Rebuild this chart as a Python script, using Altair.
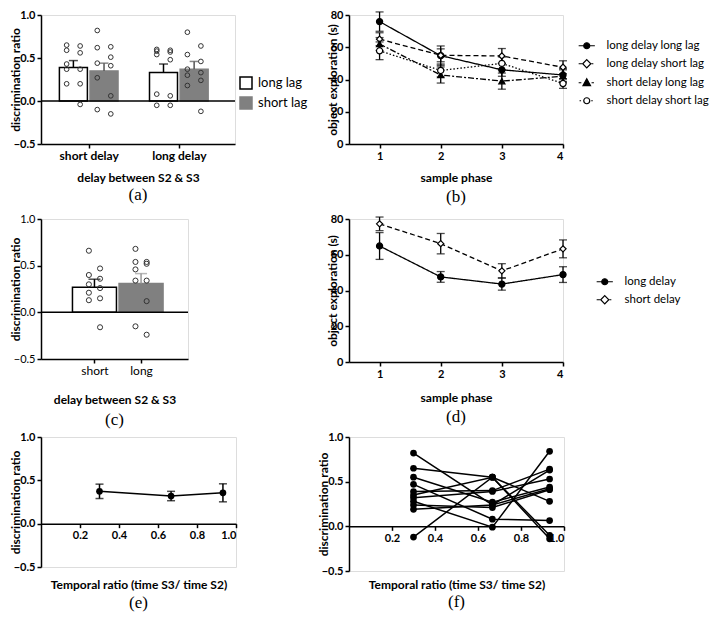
import json
import altair as alt
import pandas as pd

FONT = "Lato"
SERIF = "Liberation Serif"
BLACK = "#000000"
GREY = "#808080"

# ---------------- (a) ----------------
a_groups = ["short delay", "long delay"]
a_lags = ["long lag", "short lag"]
a_bar_delay = ["short delay", "short delay", "long delay", "long delay"]
a_bar_lag = ["long lag", "short lag", "long lag", "short lag"]
a_bar_mean = [0.39, 0.35, 0.33, 0.37]
a_bar_sem = [0.08, 0.09, 0.10, 0.09]
a_pts_sd_ll = [0.65, 0.64, 0.59, 0.56, 0.43, 0.37, 0.37, 0.20, 0.20, -0.04]
a_pts_sd_sl = [0.82, 0.63, 0.62, 0.51, 0.44, 0.41, 0.27, 0.06, -0.10, -0.15]
a_pts_ld_ll = [0.60, 0.59, 0.58, 0.57, 0.54, 0.48, 0.08, 0.06, -0.05, -0.05]
a_pts_ld_sl = [0.80, 0.64, 0.54, 0.46, 0.37, 0.33, 0.30, 0.24, 0.18, -0.12]
zero_line = [0.0]

# ---------------- (b) ----------------
b_phase = [1, 2, 3, 4]
b_series = ["long delay long lag", "long delay short lag",
            "short delay long lag", "short delay short lag"]
b_ll = [75.9, 54.8, 46.0, 42.8]
b_ll_err = [6.0, 6.0, 4.0, 4.0]
b_ls = [65.0, 55.0, 54.6, 47.6]
b_ls_err = [4.0, 4.0, 4.6, 4.0]
b_sl = [62.0, 42.8, 39.0, 42.0]
b_sl_err = [4.0, 5.0, 5.0, 4.0]
b_ss = [57.8, 45.6, 50.0, 37.5]
b_ss_err = [5.5, 4.0, 4.0, 3.0]

# ---------------- (c) ----------------
c_groups = ["short", "long"]
c_mean = [0.27, 0.31]
c_sem = [0.085, 0.105]
c_pts_short = [0.66, 0.47, 0.40, 0.36, 0.30, 0.26, 0.21, 0.15, 0.13, -0.16]
c_pts_long = [0.68, 0.54, 0.54, 0.52, 0.46, 0.34, 0.34, 0.12, -0.15, -0.24]

# ---------------- (d) ----------------
d_phase = [1, 2, 3, 4]
d_series = ["long delay", "short delay"]
d_long = [64.9, 47.6, 43.6, 48.9]
d_long_err = [7.5, 3.0, 3.4, 4.4]
d_short = [77.3, 66.2, 51.0, 63.3]
d_short_err = [3.8, 5.7, 4.0, 5.0]

# ---------------- (e) ----------------
e_ratio = [0.30, 0.667, 0.933]
e_mean = [0.373, 0.319, 0.356]
e_sem = [0.083, 0.054, 0.104]

# ---------------- (f) ----------------
f_ratio = [0.30, 0.667, 0.933]
f_at_030 = [0.82, 0.65, 0.55, 0.47, 0.39, 0.35, 0.32, 0.28, 0.24, 0.19, -0.12]
f_at_067 = [0.24, 0.55, 0.27, 0.08, 0.40, 0.55, 0.39, -0.01, 0.21, 0.24, 0.55]
f_at_093 = [0.42, 0.28, 0.44, 0.065, 0.64, -0.10, 0.53, 0.84, 0.41, 0.63, -0.14]

# legend symbols: line segments + marker (unit coords)
CIRC = "M1,0A1,1,0,1,1,-1,0A1,1,0,1,1,1,0Z"
P_SOLID_CIRCLE = "M-2.7,0L-1,0M1,0L2.7,0" + CIRC
P_DASH_DIAMOND = "M-2.7,0L-1.6,0M1.6,0L2.2,0M0,-1.35L1.35,0L0,1.35L-1.35,0Z"
P_DASHDOT_TRI = "M-2.7,0L-1.8,0M1.6,0L2.4,0M0,-1.3L1.25,0.95L-1.25,0.95Z"
P_DOT_CIRCLE = "M-2.4,0L-1.9,0M1.5,0L2.0,0" + CIRC


def ax(title, values=None, fmt=None, bold=True, lsize=11, tsize=12, **kw):
    d = dict(title=title, grid=False, domainColor=BLACK, domainWidth=1.5,
             tickColor=BLACK, tickWidth=1.5, tickSize=4,
             labelFont=FONT, labelFontSize=lsize,
             labelFontWeight="bold" if bold else "normal", labelColor=BLACK,
             titleFont=FONT, titleFontSize=tsize, titleFontWeight="bold",
             titleColor=BLACK, labelPadding=2, titlePadding=-9)
    if values is not None:
        d["values"] = values
    if fmt:
        d["format"] = fmt
    d.update(kw)
    return alt.Axis(**d)


def cap(t, off=2):
    return alt.TitleParams(t, orient="bottom", font=SERIF, fontSize=17,
                           fontWeight="normal", color=BLACK, frame="group",
                           anchor="middle", offset=off)


# ====================== panel (a) ======================
a_gi = {g: i for i, g in enumerate(a_groups)}
a_bar_df = pd.DataFrame({"delay": a_bar_delay, "lag": a_bar_lag,
                         "mean": a_bar_mean, "sem": a_bar_sem})
a_bar_df["gi"] = a_bar_df["delay"].map(a_gi)
a_pts_df = pd.concat([
    pd.DataFrame({"delay": "short delay", "lag": "long lag", "value": a_pts_sd_ll}),
    pd.DataFrame({"delay": "short delay", "lag": "short lag", "value": a_pts_sd_sl}),
    pd.DataFrame({"delay": "long delay", "lag": "long lag", "value": a_pts_ld_ll}),
    pd.DataFrame({"delay": "long delay", "lag": "short lag", "value": a_pts_ld_sl}),
], ignore_index=True)
a_pts_df["gi"] = a_pts_df["delay"].map(a_gi)

a_xexpr = "datum.gi + (datum.lag == 'long lag' ? -0.17 : 0.17)"
a_xaxis = ax("delay between S2 & S3", values=[0, 1], bold=True, lsize=12,
             labelExpr="%s[datum.value]" % json.dumps(a_groups), titlePadding=11)
a_X = alt.X("xp:Q", scale=alt.Scale(domain=[-0.474, 1.568], nice=False, zero=False), axis=a_xaxis)
a_ys = alt.Scale(domain=[-0.5, 1.0], nice=False, zero=False)
a_yax = ax("discrimination ratio", values=[-0.5, 0, 0.5, 1.0], fmt=".1f")

leg_a = alt.Legend(title=None, orient="none", legendX=198, legendY=61,
                   symbolType="square", symbolSize=144, symbolStrokeWidth=1.5,
                   symbolFillColor="white", labelFont=FONT, labelFontSize=13,
                   labelColor=BLACK, rowPadding=2, labelOffset=5)

a_bars = alt.Chart(a_bar_df).transform_calculate(xp=a_xexpr).mark_bar(width=28, strokeWidth=1.5).encode(
    x=a_X, y=alt.Y("mean:Q", scale=a_ys, axis=a_yax), y2=alt.datum(0),
    fill=alt.Fill("lag:N", scale=alt.Scale(domain=a_lags, range=["white", GREY]), legend=leg_a),
    stroke=alt.Stroke("lag:N", scale=alt.Scale(domain=a_lags, range=[BLACK, GREY]), legend=leg_a),
)
a_errbase = alt.Chart(a_bar_df).transform_calculate(xp=a_xexpr, hi="datum.mean + datum.sem")
a_ecol = alt.Color("lag:N", scale=alt.Scale(domain=a_lags, range=[BLACK, "#555555"]), legend=None)
a_err = a_errbase.mark_rule(strokeWidth=1.5).encode(
    x=a_X, y=alt.Y("mean:Q", scale=a_ys, axis=a_yax), y2="hi:Q", color=a_ecol)
a_cap = a_errbase.mark_tick(orient="horizontal", size=9, thickness=1.5).encode(
    x=a_X, y=alt.Y("hi:Q", scale=a_ys, axis=a_yax), color=a_ecol)
a_zero = alt.Chart(pd.DataFrame({"z": zero_line})).mark_rule(color=BLACK, strokeWidth=1.5).encode(
    y=alt.Y("z:Q", scale=a_ys, axis=a_yax))
a_pts = alt.Chart(a_pts_df).transform_window(
    rk="row_number()", groupby=["delay", "lag"],
    sort=[alt.SortField("value", order="descending")]
).transform_calculate(
    xp=a_xexpr + " + (datum.rk % 2 == 0 ? 0.075 : -0.075)"
).mark_point(shape="circle", size=22, strokeWidth=1, color="#333333", filled=False, opacity=1).encode(
    x=a_X, y=alt.Y("value:Q", scale=a_ys, axis=a_yax))

panel_a = alt.layer(a_bars, a_err, a_cap, a_zero, a_pts).properties(
    width=194, height=129, title=cap("(a)", 4))

# ====================== panel (c) ======================
c_gi = {g: i for i, g in enumerate(c_groups)}
c_bar_df = pd.DataFrame({"delay": c_groups, "mean": c_mean, "sem": c_sem})
c_bar_df["gi"] = c_bar_df["delay"].map(c_gi)
c_pts_df = pd.concat([
    pd.DataFrame({"delay": "short", "value": c_pts_short}),
    pd.DataFrame({"delay": "long", "value": c_pts_long}),
], ignore_index=True)
c_pts_df["gi"] = c_pts_df["delay"].map(c_gi)
c_xexpr = "datum.gi"
c_xaxis = ax("delay between S2 & S3", values=[0, 1], bold=False, lsize=12,
             labelExpr="%s[datum.value]" % json.dumps(c_groups), titlePadding=18)
c_X = alt.X("xp:Q", scale=alt.Scale(domain=[-1.04, 1.9], nice=False, zero=False), axis=c_xaxis)
c_ys = alt.Scale(domain=[-0.5, 1.0], nice=False, zero=False)
c_yax = ax("discrimination ratio", values=[-0.5, 0, 0.5, 1.0], fmt=".1f", bold=False, lsize=11, tsize=12)

c_bars = alt.Chart(c_bar_df).transform_calculate(xp=c_xexpr).mark_bar(width=44, strokeWidth=1.5).encode(
    x=c_X, y=alt.Y("mean:Q", scale=c_ys, axis=c_yax), y2=alt.datum(0),
    fill=alt.Fill("delay:N", scale=alt.Scale(domain=c_groups, range=["white", GREY]), legend=None),
    stroke=alt.Stroke("delay:N", scale=alt.Scale(domain=c_groups, range=[BLACK, GREY]), legend=None),
)
c_errbase = alt.Chart(c_bar_df).transform_calculate(xp=c_xexpr, hi="datum.mean + datum.sem")
c_ecol = alt.Color("delay:N", scale=alt.Scale(domain=c_groups, range=[BLACK, "#9a9a9a"]), legend=None)
c_err = c_errbase.mark_rule(strokeWidth=1.5).encode(
    x=c_X, y=alt.Y("mean:Q", scale=c_ys, axis=c_yax), y2="hi:Q", color=c_ecol)
c_cap = c_errbase.mark_tick(orient="horizontal", size=12, thickness=1.5).encode(
    x=c_X, y=alt.Y("hi:Q", scale=c_ys, axis=c_yax), color=c_ecol)
c_zero = alt.Chart(pd.DataFrame({"z": zero_line})).mark_rule(color=BLACK, strokeWidth=1.5).encode(
    y=alt.Y("z:Q", scale=c_ys, axis=c_yax))
c_pts = alt.Chart(c_pts_df).transform_window(
    rk="row_number()", groupby=["delay"],
    sort=[alt.SortField("value", order="descending")]
).transform_calculate(
    xp=c_xexpr + " + (datum.rk % 2 == 0 ? 0.12 : -0.12)"
).mark_point(shape="circle", size=26, strokeWidth=1, color="#333333", filled=False, opacity=1).encode(
    x=c_X, y=alt.Y("value:Q", scale=c_ys, axis=c_yax))

panel_c = alt.layer(c_bars, c_err, c_cap, c_zero, c_pts).properties(
    width=147, height=140, title=cap("(c)", 7))


# ====================== line panels (b), (d) ======================
def phase_panel(series, means, errs, dashes, shapes, fills, paths, leg_xy, w, h, tpad, caption, coff):
    df = pd.DataFrame({
        "phase": [p for _ in series for p in b_phase],
        "series": [s for s in series for _ in b_phase],
        "mean": [v for m in means for v in m],
        "err": [v for e in errs for v in e],
    })
    X = alt.X("phase:Q", scale=alt.Scale(domain=[0.5, 4], nice=False, zero=False),
              axis=ax("sample phase", values=[1, 2, 3, 4], fmt="d", titlePadding=tpad))
    ys = alt.Scale(domain=[0, 80], nice=False, zero=False)
    yax = ax("object exploration (s)", values=[0, 20, 40, 60, 80], fmt="d")
    base = alt.Chart(df).transform_calculate(lo="datum.mean - datum.err", hi="datum.mean + datum.err")
    rule = base.mark_rule(color=BLACK, strokeWidth=1.3).encode(
        x=X, y=alt.Y("lo:Q", scale=ys, axis=yax), y2="hi:Q")
    capl = base.mark_tick(orient="horizontal", size=8, thickness=1.3, color=BLACK).encode(
        x=X, y=alt.Y("lo:Q", scale=ys, axis=yax))
    caph = base.mark_tick(orient="horizontal", size=8, thickness=1.3, color=BLACK).encode(
        x=X, y=alt.Y("hi:Q", scale=ys, axis=yax))
    line = base.mark_line(color=BLACK, strokeWidth=1.3).encode(
        x=X, y=alt.Y("mean:Q", scale=ys, axis=yax),
        strokeDash=alt.StrokeDash("series:N", scale=alt.Scale(domain=series, range=dashes), legend=None))
    pts = base.mark_point(filled=True, stroke=BLACK, strokeWidth=1.2, size=38, opacity=1).encode(
        x=X, y=alt.Y("mean:Q", scale=ys, axis=yax),
        shape=alt.Shape("series:N", scale=alt.Scale(domain=series, range=shapes), legend=None),
        fill=alt.Fill("series:N", scale=alt.Scale(domain=series, range=fills), legend=None))
    leg = alt.Legend(title=None, orient="none", legendX=leg_xy[0], legendY=leg_xy[1],
                     symbolSize=36, symbolStrokeWidth=1.2, symbolStrokeColor=BLACK,
                     symbolFillColor="white", symbolOpacity=1, labelFont=FONT,
                     labelFontSize=11.5, labelColor=BLACK, labelOffset=14, rowPadding=5)
    legl = base.transform_filter("false").mark_point(filled=True, stroke=BLACK, strokeWidth=1.2).encode(
        shape=alt.Shape("series:N", scale=alt.Scale(domain=series, range=paths), legend=leg),
        fill=alt.Fill("series:N", scale=alt.Scale(domain=series, range=fills), legend=leg))
    return alt.layer(rule, capl, caph, line, pts, legl).resolve_scale(
        shape="independent", fill="independent").properties(width=w, height=h, title=cap(caption, coff))


panel_b = phase_panel(
    b_series, [b_ll, b_ls, b_sl, b_ss], [b_ll_err, b_ls_err, b_sl_err, b_ss_err],
    [[1, 0], [5, 3], [6, 2, 2, 2], [1.5, 2]],
    ["circle", "diamond", "triangle-up", "circle"],
    [BLACK, "white", BLACK, "white"],
    [P_SOLID_CIRCLE, P_DASH_DIAMOND, P_DASHDOT_TRI, P_DOT_CIRCLE],
    (232, 25), 214, 129, 11, "(b)", 6)

panel_d = phase_panel(
    d_series, [d_long, d_short], [d_long_err, d_short_err],
    [[1, 0], [5, 3]],
    ["circle", "diamond"],
    [BLACK, "white"],
    [P_SOLID_CIRCLE, P_DASH_DIAMOND],
    (250, 57), 214, 143, 13, "(d)", 6)

# ====================== panel (e) ======================
e_df = pd.DataFrame({"ratio": e_ratio, "mean": e_mean, "sem": e_sem})
e_H = 130
e_X = alt.X("ratio:Q", scale=alt.Scale(domain=[0, 1], nice=False, zero=False),
            axis=ax("Temporal ratio (time S3/ time S2)", values=[0.2, 0.4, 0.6, 0.8, 1.0], fmt=".1f",
                    offset=-e_H / 3.0, titlePadding=39))
e_ys = alt.Scale(domain=[-0.5, 1.0], nice=False, zero=False)
e_yax = ax("discrimination ratio", values=[-0.5, 0, 0.5, 1.0], fmt=".1f")
e_base = alt.Chart(e_df).transform_calculate(lo="datum.mean - datum.sem", hi="datum.mean + datum.sem")
e_rule = e_base.mark_rule(color=BLACK, strokeWidth=1.5).encode(
    x=e_X, y=alt.Y("lo:Q", scale=e_ys, axis=e_yax), y2="hi:Q")
e_capl = e_base.mark_tick(orient="horizontal", size=8, thickness=1.5, color=BLACK).encode(
    x=e_X, y=alt.Y("lo:Q", scale=e_ys, axis=e_yax))
e_caph = e_base.mark_tick(orient="horizontal", size=8, thickness=1.5, color=BLACK).encode(
    x=e_X, y=alt.Y("hi:Q", scale=e_ys, axis=e_yax))
e_line = e_base.mark_line(color=BLACK, strokeWidth=1.5).encode(
    x=e_X, y=alt.Y("mean:Q", scale=e_ys, axis=e_yax))
e_pts = e_base.mark_circle(color=BLACK, size=45, opacity=1).encode(
    x=e_X, y=alt.Y("mean:Q", scale=e_ys, axis=e_yax))
panel_e = alt.layer(e_rule, e_capl, e_caph, e_line, e_pts).properties(
    width=195, height=e_H, title=cap("(e)", 4))

# ====================== panel (f) ======================
n_sub = len(f_at_030)
f_df = pd.DataFrame({
    "subject": [i for i in range(n_sub) for _ in f_ratio],
    "ratio": f_ratio * n_sub,
    "value": [v for trio in zip(f_at_030, f_at_067, f_at_093) for v in trio],
})
f_H = 134
f_X = alt.X("ratio:Q", scale=alt.Scale(domain=[0, 1], nice=False, zero=False),
            axis=ax("Temporal ratio (time S3/ time S2)", values=[0.2, 0.4, 0.6, 0.8, 1.0], fmt=".1f",
                    offset=-f_H / 3.0, titlePadding=36))
f_ys = alt.Scale(domain=[-0.5, 1.0], nice=False, zero=False)
f_yax = ax("discrimination ratio", values=[-0.5, 0, 0.5, 1.0], fmt=".1f")
f_line = alt.Chart(f_df).mark_line(color=BLACK, strokeWidth=1.5).encode(
    x=f_X, y=alt.Y("value:Q", scale=f_ys, axis=f_yax), detail="subject:N")
f_pts = alt.Chart(f_df).mark_circle(color=BLACK, size=45, opacity=1).encode(
    x=f_X, y=alt.Y("value:Q", scale=f_ys, axis=f_yax))
panel_f = alt.layer(f_line, f_pts).properties(width=215, height=f_H, title=cap("(f)", 4))

RES = dict(fill="independent", stroke="independent", color="independent",
           shape="independent", strokeDash="independent")

chart = alt.concat(
    panel_a, panel_b, panel_c, panel_d, panel_e, panel_f,
    columns=2, bounds="flush", spacing=alt.RowColnumber(row=75, column=113)
).resolve_scale(**RES).properties(
    padding={"left": 0, "top": 0, "right": 0, "bottom": 0}
).configure_view(stroke=None).configure(font=FONT)

chart.save("out.html", embed_options={"renderer": "svg", "actions": False})
